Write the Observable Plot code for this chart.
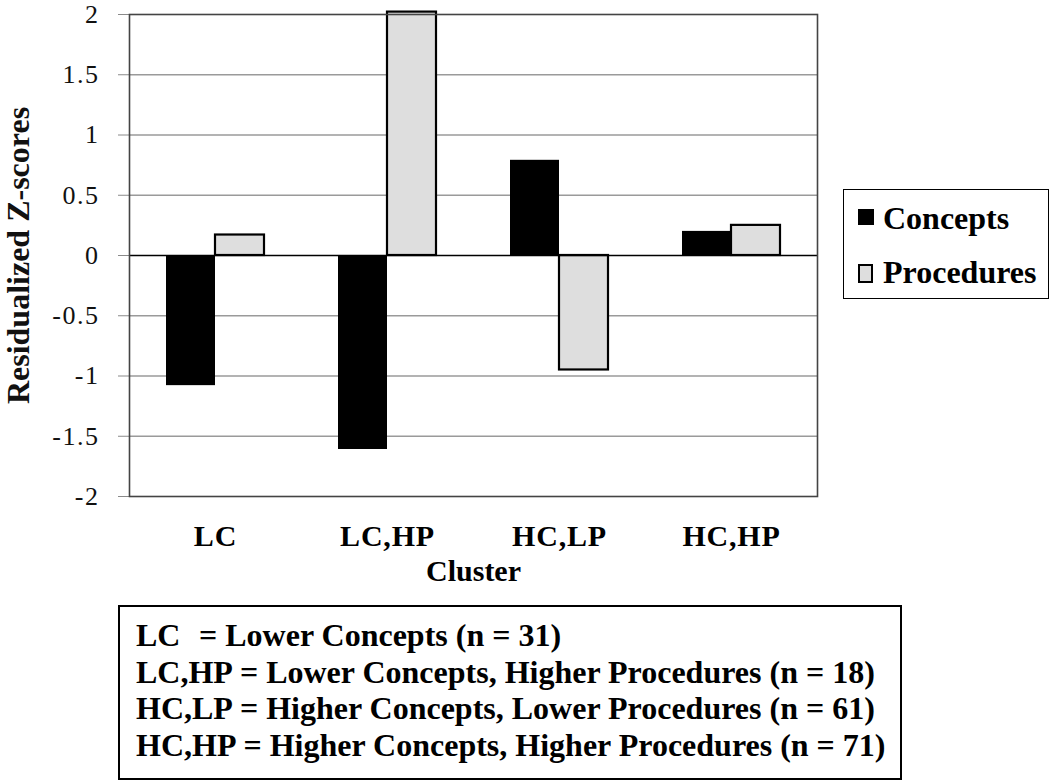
<!DOCTYPE html>
<html>
<head>
<meta charset="utf-8">
<script src="https://cdn.jsdelivr.net/npm/d3@7"></script>
<script src="https://cdn.jsdelivr.net/npm/@observablehq/plot@0.6"></script>
<style>
  html, body { margin: 0; padding: 0; background: #fff; }
  #root { position: relative; width: 1050px; height: 782px; font-family: "Liberation Serif", "Tinos", "Times New Roman", "DejaVu Serif", serif; }
  #chart { position: absolute; left: 0; top: 3px; }
  #chart svg { font-family: "Liberation Serif", "Tinos", "Times New Roman", "DejaVu Serif", serif !important; overflow: visible; }
  #chart svg text { font-family: "Liberation Serif", "Tinos", "Times New Roman", "DejaVu Serif", serif; }
  #chart g[aria-label="y-axis label"] text { font-weight: bold; font-size: 32px; }
  #chart g[aria-label="y-axis tick label"] text { letter-spacing: 1.5px; }
  #chart g[aria-label="fx-axis tick label"] text { letter-spacing: 0.8px; }
  #chart g[aria-label="fx-axis label"] text { font-weight: bold; font-size: 30px; }
  .legend { position: absolute; left: 843px; top: 189px; width: 206px; height: 110px; border: 1.5px solid #000; box-sizing: border-box; }
  .legend .sw { position: absolute; box-sizing: border-box; }
  .legend .lab { position: absolute; font-weight: bold; font-size: 32px; line-height: 32px; white-space: nowrap; }
  .note { position: absolute; left: 118px; top: 605px; width: 784px; height: 175px; border: 2px solid #000; box-sizing: border-box;
          padding: 10px 0 0 16px; font-weight: bold; font-size: 32px; line-height: 36.5px; white-space: nowrap; }
  .note .k { display: inline-block; }
</style>
</head>
<body>
<div id="root">
  <div id="chart"></div>
  <div class="legend" id="legend"></div>
  <div class="note" id="note"></div>
</div>
<script>
// ---- data ----
const clusters = ["LC", "LC,HP", "HC,LP", "HC,HP"];
const series = ["Concepts", "Procedures"];
const conceptsValues = [-1.08, -1.61, 0.79, 0.20];
const proceduresValues = [0.17, 2.02, -0.95, 0.25];
const yTicks = [-2, -1.5, -1, -0.5, 0, 0.5, 1, 1.5, 2];
const gridTicks = [-1.5, -1, -0.5, 0.5, 1, 1.5];
const noteKeys = ["LC", "LC,HP", "HC,LP", "HC,HP"];
const noteTexts = [
  "= Lower Concepts (n = 31)",
  "= Lower Concepts, Higher Procedures (n = 18)",
  "= Higher Concepts, Lower Procedures (n = 61)",
  "= Higher Concepts, Higher Procedures (n = 71)"
];
const seriesColors = ["#000000", "#dedede"];
const serif = "'Liberation Serif', 'Tinos', 'Times New Roman', 'DejaVu Serif', serif";

const conceptsData = clusters.map((c, i) => ({cluster: c, series: series[0], value: conceptsValues[i]}));
const proceduresData = clusters.map((c, i) => ({cluster: c, series: series[1], value: proceduresValues[i]}));

const chart = Plot.plot({
  width: 830,
  height: 597,
  marginLeft: 128,
  marginRight: 12,
  marginTop: 11,
  marginBottom: 104,
  style: {fontFamily: serif, background: "transparent"},
  fx: {domain: clusters, padding: 0},
  x: {domain: series, paddingInner: 0, paddingOuter: 0.725, axis: null},
  y: {domain: [-2, 2]},
  marks: [
    Plot.gridY(gridTicks, {stroke: "#9a9a9a", strokeOpacity: 1, strokeWidth: 1.3}),
    Plot.axisY({
      ticks: yTicks, tickSize: 11, tickPadding: 19, stroke: "#8a8a8a", strokeOpacity: 1,
      tickFormat: d => d.toString(), fontSize: 26, fill: "#111",
      label: "Residualized Z-scores", labelArrow: "none", labelAnchor: "center", labelOffset: 123
    }),
    Plot.axisFx({
      anchor: "bottom", tickSize: 0, tickPadding: 28, fontSize: 30, fontWeight: "bold", fill: "#000",
      label: "Cluster", labelArrow: "none", labelAnchor: "center", labelOffset: 84
    }),
    Plot.barY(conceptsData, {fx: "cluster", x: "series", y: "value", fill: seriesColors[0]}),
    Plot.barY(proceduresData, {fx: "cluster", x: "series", y: "value", fill: seriesColors[1], stroke: "#000", strokeWidth: 2.2}),
    Plot.ruleY([0], {stroke: "#000", strokeWidth: 1.6}),
    Plot.frame({facet: "super", stroke: "#444", strokeWidth: 1.6})
  ]
});
document.getElementById("chart").appendChild(chart);

// ---- legend ----
const legend = document.getElementById("legend");
const legendItems = [
  {swLeft: 14, swTop: 19, swW: 16, swH: 16, border: "none", labTop: 12},
  {swLeft: 14, swTop: 74, swW: 15, swH: 19, border: "2px solid #000", labTop: 66}
];
series.forEach((s, i) => {
  const it = legendItems[i];
  const sw = document.createElement("div");
  sw.className = "sw";
  Object.assign(sw.style, {left: it.swLeft + "px", top: it.swTop + "px", width: it.swW + "px", height: it.swH + "px",
    background: seriesColors[i], border: it.border});
  legend.appendChild(sw);
  const lab = document.createElement("div");
  lab.className = "lab";
  lab.textContent = s;
  Object.assign(lab.style, {left: "39px", top: it.labTop + "px"});
  legend.appendChild(lab);
});

// ---- note box ----
const note = document.getElementById("note");
const keyWidths = ["63px", "auto", "auto", "auto"];
noteKeys.forEach((k, i) => {
  const line = document.createElement("div");
  const key = document.createElement("span");
  key.className = "k";
  key.style.width = keyWidths[i];
  key.style.paddingRight = i === 0 ? "0" : "7px";
  key.textContent = k;
  line.appendChild(key);
  line.appendChild(document.createTextNode(noteTexts[i]));
  note.appendChild(line);
});
</script>
</body>
</html>
